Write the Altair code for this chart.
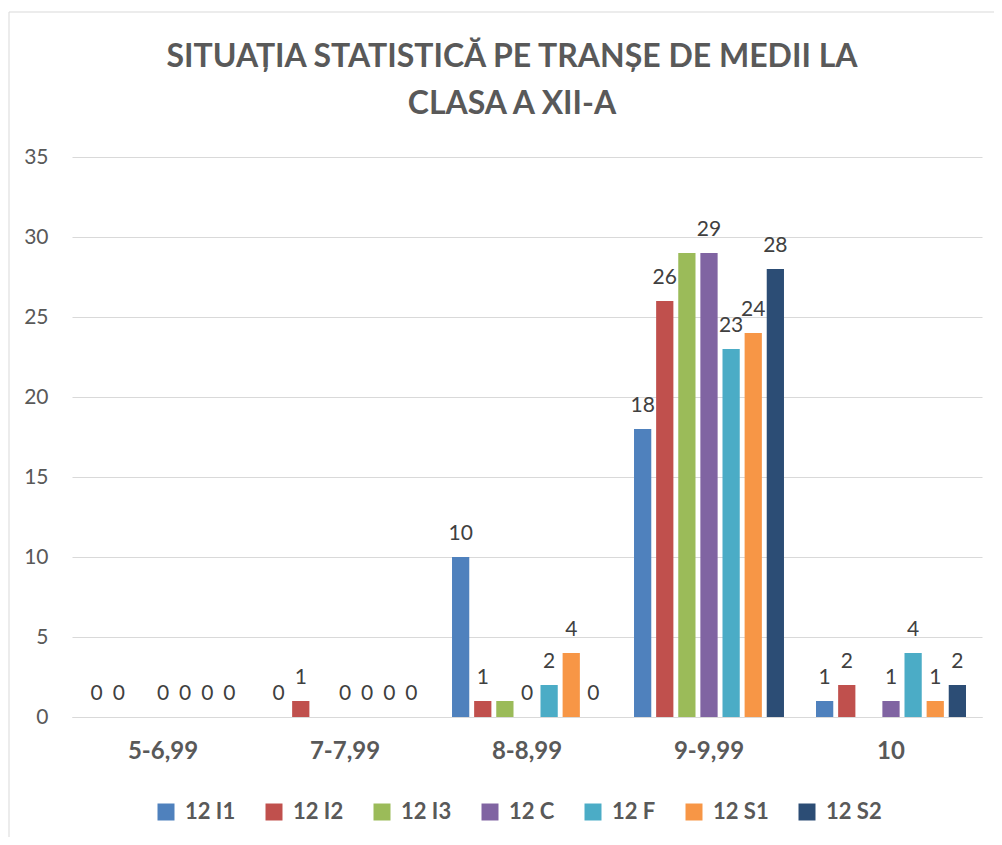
import altair as alt
import pandas as pd

categories = ["5-6,99", "7-7,99", "8-8,99", "9-9,99", "10"]
series = ["12 I1", "12 I2", "12 I3", "12 C", "12 F", "12 S1", "12 S2"]
v_i1 = [0, 0, 10, 18, 1]
v_i2 = [0, 1, 1, 26, 2]
v_i3 = [0, 0, 1, 29, 0]
v_c = [0, 0, 0, 29, 1]
v_f = [0, 0, 2, 23, 4]
v_s1 = [0, 0, 4, 24, 1]
v_s2 = [0, 0, 0, 28, 2]
colors = ["#4F81BD", "#C0504D", "#9BBB59", "#8064A2", "#4BACC6", "#F79646", "#2C4D75"]
unlabeled_series = ["12 I3"]
title_lines = ["SITUAȚIA STATISTICĂ PE TRANȘE DE MEDII LA", "CLASA A XII-A"]

all_vals = [v_i1, v_i2, v_i3, v_c, v_f, v_s1, v_s2]
rows = []
for s, vals in zip(series, all_vals):
    for cat, v in zip(categories, vals):
        rows.append({"category": cat, "series": s, "value": v})
df = pd.DataFrame(rows)

FONT = "Lato"
GRAY = "#595959"

x_enc = alt.X(
    "category:N", sort=categories,
    scale=alt.Scale(paddingInner=0.176, paddingOuter=0.088),
    axis=alt.Axis(title=None, labelAngle=0, labelFontSize=24, labelFontWeight="bold",
                  labelColor=GRAY, labelFont=FONT, ticks=False, labelPadding=22,
                  domainColor="#D9D9D9", grid=False),
)
xo_enc = alt.XOffset("series:N", sort=series, scale=alt.Scale(paddingInner=0.22))
y_enc = alt.Y(
    "value:Q", scale=alt.Scale(domain=[0, 35], nice=False),
    axis=alt.Axis(title=None, values=[0, 5, 10, 15, 20, 25, 30, 35], labelFontSize=21,
                  labelColor=GRAY, labelFont=FONT, ticks=False, domain=False,
                  gridColor="#D9D9D9", labelPadding=24),
)

bars = alt.Chart(df).mark_bar().encode(
    x=x_enc, xOffset=xo_enc, y=y_enc,
    color=alt.Color("series:N", sort=series,
                    scale=alt.Scale(domain=series, range=colors),
                    legend=alt.Legend(title=None, orient="none", direction="horizontal",
                                      legendX=83, legendY=644,
                                      symbolType="square", symbolSize=289, symbolStrokeWidth=0,
                                      labelFontSize=22, labelFontWeight="bold", labelColor=GRAY,
                                      labelFont=FONT, columnPadding=27, labelOffset=8,
                                      symbolOffset=0)),
)

labels = alt.Chart(df).transform_filter(
    ~alt.FieldOneOfPredicate(field="series", oneOf=unlabeled_series)
).mark_text(baseline="alphabetic", dy=-17, fontSize=21, font=FONT, color="#404040").encode(
    x=alt.X("category:N", sort=categories), xOffset=alt.XOffset("series:N", sort=series),
    y="value:Q", text="value:Q",
)

border = alt.Chart(pd.DataFrame({"a": [0]})).mark_rect(
    fill=None, stroke="#D9D9D9", strokeWidth=1
).encode(x=alt.value(-63), x2=alt.value(923), y=alt.value(-145), y2=alt.value(700))

title_df = pd.DataFrame({"txt": ["\n".join(title_lines)]})
title = alt.Chart(title_df).mark_text(
    fontSize=32, font=FONT, fontWeight="bold", color=GRAY, align="center",
    baseline="middle", lineBreak="\n", lineHeight=47,
).encode(text="txt:N", x=alt.value(440), y=alt.value(-100))

chart = alt.layer(border, bars, labels, title).properties(
    width=910, height=560,
    padding={"left": 64, "top": 149, "right": 12, "bottom": 120},
    autosize=alt.AutoSizeParams(type="none"),
).configure_view(stroke=None)

chart.save("out.html", embed_options={"renderer": "svg", "actions": False})
